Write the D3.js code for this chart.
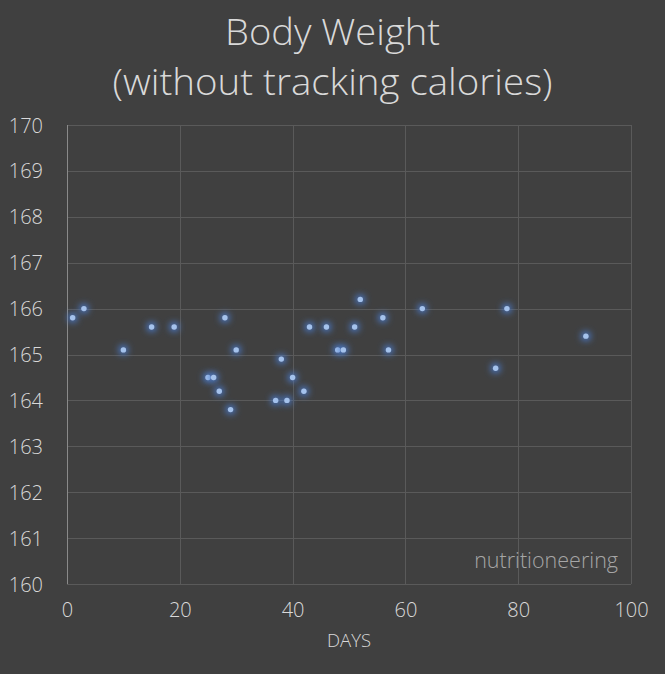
<!DOCTYPE html>
<html>
<head>
<meta charset="utf-8">
<script src="https://cdn.jsdelivr.net/npm/d3@7"></script>
<style>
  body { margin: 0; background: #404040; }
  svg text { font-family: 'Open Sans', 'Noto Sans', sans-serif; font-weight: 300; }
</style>
</head>
<body>
<div id='chart'></div>

<script>
  // days since start, weight in lbs
  var days    = [1, 3, 10, 15, 19, 25, 26, 27, 28, 29, 30, 37, 38, 39, 40, 42, 43, 46, 48, 49, 51, 52, 56, 57, 63, 76, 78, 92]
  var weights = [165.8, 166.0, 165.1, 165.6, 165.6, 164.5, 164.5, 164.2, 165.8, 163.8, 165.1, 164.0, 164.9, 164.0, 164.5, 164.2, 165.6, 165.6, 165.1, 165.1, 165.6, 166.2, 165.8, 165.1, 166.0, 164.7, 166.0, 165.4]
  var xTicks  = [0, 20, 40, 60, 80, 100]
  var yTicks  = [160, 161, 162, 163, 164, 165, 166, 167, 168, 169, 170]
  var titleLines = ['Body Weight', '(without tracking calories)']

  var width = 665, height = 674
  var margin = {top: 125, right: 34, bottom: 90, left: 67}

  var svg = d3.select('#chart')
              .append('svg')
              .attr('width', width)
              .attr('height', height)

  svg.append('rect')
     .attr('width', width)
     .attr('height', height)
     .attr('fill', '#404040')

  var defs = svg.append('defs')
  var glow = defs.append('filter')
                 .attr('id', 'glow')
                 .attr('x', '-300%').attr('y', '-300%')
                 .attr('width', '700%').attr('height', '700%')
  glow.append('feMorphology')
      .attr('in', 'SourceAlpha')
      .attr('operator', 'dilate')
      .attr('radius', 1.5)
      .attr('result', 'fat')
  glow.append('feGaussianBlur')
      .attr('in', 'fat')
      .attr('stdDeviation', 3)
      .attr('result', 'blur')
  glow.append('feFlood').attr('flood-color', '#4a7cd0').attr('flood-opacity', 0.85)
  glow.append('feComposite').attr('in2', 'blur').attr('operator', 'in').attr('result', 'g')
  var merge = glow.append('feMerge')
  merge.append('feMergeNode').attr('in', 'g')
  merge.append('feMergeNode').attr('in', 'SourceGraphic')

  var x = d3.scaleLinear()
            .domain([0, 100])
            .range([margin.left, width - margin.right])

  var y = d3.scaleLinear()
            .domain([160, 170])
            .range([height - margin.bottom, margin.top])

  // gridlines
  svg.append('g')
     .selectAll('line.h')
     .data(yTicks)
     .enter()
     .append('line')
     .attr('x1', x(0)).attr('x2', x(100))
     .attr('y1', function(d) { return Math.round(y(d)) + 0.5 })
     .attr('y2', function(d) { return Math.round(y(d)) + 0.5 })
     .attr('stroke', '#5a5a5a')
     .attr('stroke-width', 1)

  svg.append('g')
     .selectAll('line.v')
     .data(xTicks)
     .enter()
     .append('line')
     .attr('y1', y(160)).attr('y2', y(170))
     .attr('x1', function(d) { return Math.round(x(d)) + 0.5 })
     .attr('x2', function(d) { return Math.round(x(d)) + 0.5 })
     .attr('stroke', function(d) { return d === 0 ? '#8a8a8a' : '#5a5a5a' })
     .attr('stroke-width', 1)

  // axes (labels only)
  var yAxis = svg.append('g')
                 .attr('transform', 'translate(' + (x(0) - 21) + ',0)')
                 .call(d3.axisLeft(y).tickValues(yTicks).tickSize(0).tickFormat(d3.format('d')))
  yAxis.select('.domain').remove()
  yAxis.selectAll('text')
       .attr('fill', '#d9d9d9')
       .attr('font-size', '20px')
       .attr('dy', '0.35em')

  var xAxis = svg.append('g')
                 .attr('transform', 'translate(0,' + (y(160) + 16) + ')')
                 .call(d3.axisBottom(x).tickValues(xTicks).tickSize(0).tickFormat(d3.format('d')))
  xAxis.select('.domain').remove()
  xAxis.selectAll('text')
       .attr('fill', '#d9d9d9')
       .attr('font-size', '20px')
       .attr('dy', '0.71em')

  // points
  svg.append('g')
     .selectAll('circle')
     .data(days)
     .enter()
     .append('circle')
     .attr('cx', function(d) { return x(d) })
     .attr('cy', function(d, i) { return y(weights[i]) })
     .attr('r', 2.7)
     .attr('fill', '#a4c2ec')
     .attr('filter', 'url(#glow)')

  // title, stretched a touch so the two lines keep their width with clear line boxes
  var titleWidths = [215, 440]
  svg.selectAll('text.title')
     .data(titleLines)
     .enter()
     .append('text')
     .classed('title', true)
     .attr('x', width / 2)
     .attr('y', function(d, i) { return 45 + i * 49.5 })
     .attr('text-anchor', 'middle')
     .attr('fill', '#d9d9d9')
     .attr('font-size', '36px')
     .attr('textLength', function(d, i) { return titleWidths[i] })
     .attr('lengthAdjust', 'spacingAndGlyphs')
     .text(function(d) { return d })

  svg.append('text')
     .attr('x', x(50))
     .attr('y', 647)
     .attr('text-anchor', 'middle')
     .attr('fill', '#d9d9d9')
     .attr('font-size', '18.5px')
     .text('DAYS')

  svg.append('text')
     .attr('x', 618)
     .attr('y', 568)
     .attr('text-anchor', 'end')
     .attr('fill', '#a6a6a6')
     .attr('font-size', '21.5px')
     .text('nutritioneering')
</script>
</body>
</html>
